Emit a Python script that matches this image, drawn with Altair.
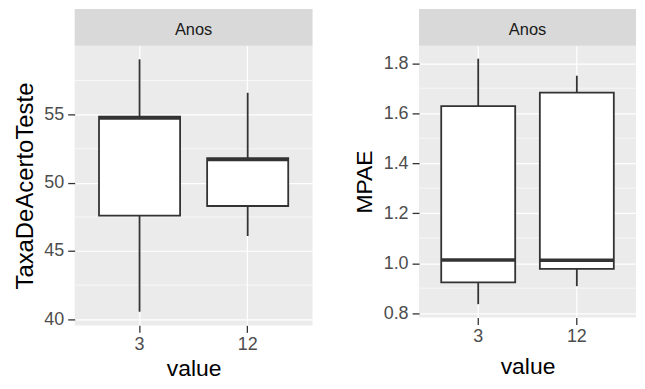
import altair as alt
import pandas as pd

categories = ["3", "12"]
strip_label = "Anos"
x_title = "value"

# Left panel: TaxaDeAcertoTeste
taxa_title = "TaxaDeAcertoTeste"
taxa_lower = [40.55, 46.1]
taxa_q1 = [47.6, 48.3]
taxa_median = [54.75, 51.7]
taxa_q3 = [54.85, 51.8]
taxa_upper = [59.05, 56.6]
taxa_ticks = [40, 45, 50, 55]
taxa_minor = [42.5, 47.5, 52.5, 57.5]
taxa_domain = [39.55, 60.05]

# Right panel: MPAE
mpae_title = "MPAE"
mpae_lower = [0.836, 0.908]
mpae_q1 = [0.923, 0.977]
mpae_median = [1.013, 1.012]
mpae_q3 = [1.628, 1.682]
mpae_upper = [1.818, 1.75]
mpae_ticks = [0.8, 1.0, 1.2, 1.4, 1.6, 1.8]
mpae_minor = [0.9, 1.1, 1.3, 1.5, 1.7]
mpae_domain = [0.783, 1.870]

FONT = "Liberation Sans"
STROKE = "#333333"
STRIP_H = 37


def panel(lower, q1, med, q3, upper, ytitle, ticks, minor, domain, fmt, W, H,
          x_title_pad, y_title_size, y_title_pad):
    df = pd.DataFrame({"cat": categories, "lower": lower, "q1": q1,
                       "median": med, "q3": q3, "upper": upper})
    xenc = alt.X("cat:N", sort=categories, title=x_title,
                 scale=alt.Scale(paddingInner=0.25, paddingOuter=0.225),
                 axis=alt.Axis(bandPosition=0.5, labelAngle=0, labelPadding=3,
                               titlePadding=x_title_pad, titleFontSize=23, grid=True))
    yscale = alt.Scale(domain=domain, nice=False, zero=False)
    yaxis = alt.Axis(values=ticks, format=fmt, labelPadding=4, titlePadding=y_title_pad,
                     titleFontSize=y_title_size, grid=True)

    minor_df = pd.DataFrame({"v": minor})
    minor_grid = alt.Chart(minor_df).mark_rule(color="white", strokeWidth=0.6).encode(
        y=alt.Y("v:Q", scale=yscale, axis=yaxis, title=ytitle))
    base = alt.Chart(df)
    whisk = base.mark_rule(color=STROKE, strokeWidth=1.8).encode(
        x=xenc, y=alt.Y("lower:Q", scale=yscale, title=ytitle), y2="upper:Q")
    box = base.mark_bar(fill="white", stroke=STROKE, strokeWidth=1.8).encode(
        x=xenc, y=alt.Y("q1:Q", scale=yscale, title=ytitle), y2="q3:Q")
    median = base.mark_tick(color=STROKE, thickness=3.5, size=0.75 * W / 2.2, opacity=1).encode(
        x=xenc, y=alt.Y("median:Q", scale=yscale, title=ytitle))
    one = pd.DataFrame({"a": [0]})
    strip_rect = alt.Chart(one).mark_rect(fill="#D9D9D9").encode(
        x=alt.value(0), x2=alt.value(W), y=alt.value(-STRIP_H), y2=alt.value(0))
    strip_text = alt.Chart(one).mark_text(font=FONT, fontSize=16.5, color="#1A1A1A",
                                          baseline="alphabetic", align="center").encode(
        x=alt.value(W / 2), y=alt.value(-11), text=alt.value(strip_label))
    return alt.layer(minor_grid, whisk, box, median, strip_rect, strip_text).properties(
        width=W, height=H)


left = panel(taxa_lower, taxa_q1, taxa_median, taxa_q3, taxa_upper, taxa_title,
             taxa_ticks, taxa_minor, taxa_domain, "d", 239, 281, 4, 24, 6)
right = panel(mpae_lower, mpae_q1, mpae_median, mpae_q3, mpae_upper, mpae_title,
              mpae_ticks, mpae_minor, mpae_domain, ".1f", 218, 273, 10, 23, 7)

chart = alt.hconcat(left, right, spacing=39).properties(
    padding={"left": 5, "top": 0, "right": 0, "bottom": 0}
).configure_view(fill="#EBEBEB", stroke=None).configure_axis(
    domain=False, tickColor=STROKE, tickSize=7, tickWidth=1.3,
    labelColor="#4D4D4D", labelFont=FONT, labelFontSize=18,
    titleFont=FONT, titleFontSize=22, titleColor="#000000", titleFontWeight="normal",
    gridColor="white", gridWidth=1.2
)

chart.save("out.html", embed_options={"renderer": "svg", "actions": False})
